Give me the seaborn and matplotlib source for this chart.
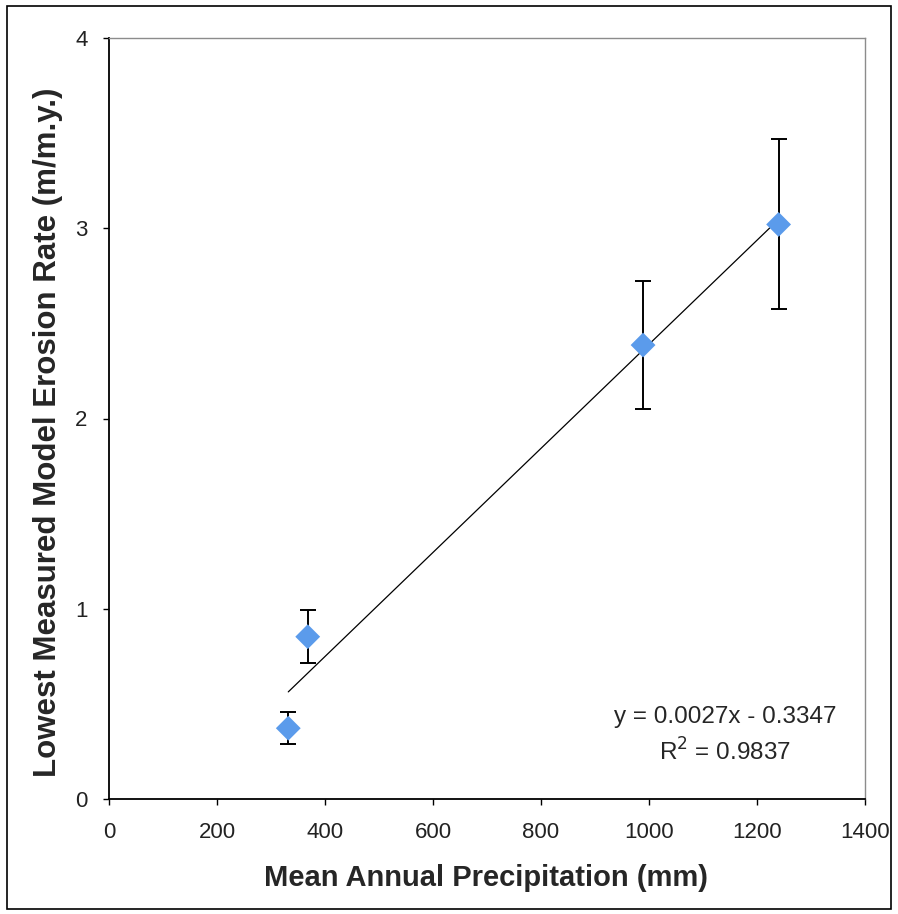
import numpy as np
import pandas as pd
import matplotlib
matplotlib.use("Agg")
import matplotlib.pyplot as plt
import seaborn as sns

# Daten
precip_mm = [332, 368, 989, 1240]
erosion_rate = [0.372, 0.853, 2.386, 3.020]
erosion_err = [0.084, 0.140, 0.336, 0.447]

fit_text = "y = 0.0027x - 0.3347"
r2_text = "R$^2$ = 0.9837"

df = pd.DataFrame({"precip": precip_mm, "rate": erosion_rate, "err": erosion_err})

sns.set_style("white")
plt.rcParams["font.family"] = ["Liberation Sans", "DejaVu Sans"]

fig = plt.figure(figsize=(8.98, 9.14), dpi=100)
ax = fig.add_axes([109 / 898, 1 - 799 / 914, (865 - 109) / 898, (799 - 38) / 914])

# Regressionslinie
sns.regplot(data=df, x="precip", y="rate", scatter=False, ci=None, truncate=True,
            ax=ax, line_kws=dict(color="black", lw=0.9))

# Fehlerbalken
ax.errorbar(df["precip"], df["rate"], yerr=df["err"], fmt="none",
            ecolor="black", elinewidth=1.4, capsize=6, capthick=1.4, zorder=3)

# Punkte
sns.scatterplot(data=df, x="precip", y="rate", marker="D", s=160,
                color="#5B9BEB", edgecolor="none", ax=ax, zorder=4)

ax.set_xlim(0, 1400)
ax.set_ylim(0, 4)
ax.set_xticks(np.arange(0, 1401, 200))
ax.set_yticks(np.arange(0, 5, 1))
ax.tick_params(axis="both", direction="out", length=4.5, width=1, color="black",
               labelsize=16, labelcolor="#222222", left=True, bottom=True)
ax.tick_params(axis="x", pad=12)
ax.tick_params(axis="y", pad=11)

for s in ["left", "bottom"]:
    ax.spines[s].set_color("black")
    ax.spines[s].set_linewidth(1.3)
for s in ["top", "right"]:
    ax.spines[s].set_color("#8c8c8c")
    ax.spines[s].set_linewidth(1.0)

ax.set_xlabel("Mean Annual Precipitation (mm)", fontsize=21, fontweight="bold")
ax.set_ylabel("Lowest Measured Model Erosion Rate (m/m.y.)", fontsize=22.5,
              fontweight="bold")
ax.xaxis.set_label_coords(0.4987, -0.085)
ax.yaxis.set_label_coords(-0.061, 0.482)

ax.text(1141, 0.431, fit_text, ha="center", va="center", fontsize=17.5)
ax.text(1141, 0.247, r2_text, ha="center", va="center", fontsize=17.5)

# Rahmen um die Abbildung
fig.patches.append(plt.Rectangle((7 / 898, 5 / 914), 884 / 898, 903 / 914,
                                 transform=fig.transFigure, fill=False,
                                 edgecolor="black", lw=1.2))

fig.savefig("out.png", dpi=100)
